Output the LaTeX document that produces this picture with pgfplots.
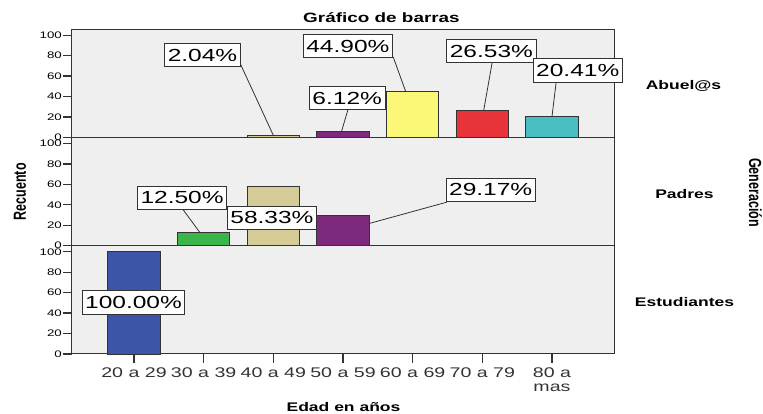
\documentclass[border=0pt]{standalone}
\usepackage{fontspec}
\setmainfont{Liberation Sans}[FakeStretch=1.4]
\newfontfamily\plainsans{Liberation Sans}
\usepackage{graphicx}
\usepackage{pgfplots}
\pgfplotsset{compat=1.18}

\definecolor{panelbg}{HTML}{EFEFEF}
\definecolor{edge}{HTML}{333333}
\definecolor{cblue}{HTML}{3D55A6}
\definecolor{cgreen}{HTML}{3BB54A}
\definecolor{ctan}{HTML}{D4CB97}
\definecolor{cpurple}{HTML}{7D2A7E}
\definecolor{cyellow}{HTML}{FCF877}
\definecolor{cred}{HTML}{E8333A}
\definecolor{cteal}{HTML}{48BEC4}

\pgfplotsset{
  panel/.style={
    at={(72pt,#1)}, anchor=south west,
    scale only axis, width=542pt, height=108.3pt,
    xmin=-0.89, xmax=6.89, ymin=0, ymax=106,
    ytick={0,20,...,100}, ytick pos=left,
    tick align=outside, major tick length=9pt,
    axis background/.style={fill=panelbg},
    axis line style={edge, line width=1pt},
    tick style={edge, line width=1.3pt},
    yticklabel style={font=\fontsize{9.5}{10}\selectfont, inner sep=1pt},
    /pgf/number format/assume math mode=true,
    clip=false,
  },
  mybar/.style={ybar, bar width=0.75, bar shift=0pt, fill=#1, draw=edge, line width=0.9pt},
}
\tikzset{
  lbl/.style={draw=edge, fill=white, line width=0.8pt,
    font=\fontsize{17.5}{18}\selectfont, inner xsep=3pt, inner ysep=5pt,
    text height=13pt, text depth=0.5pt},
  lead/.style={draw=edge, line width=0.8pt},
}

\begin{document}
\begin{tikzpicture}[x=1pt, y=1pt]
\useasboundingbox (0,0) rectangle (763,414);

% Abuel@s
\begin{axis}[panel=276.6pt, xtick=\empty]
\draw[lead] (axis cs:1.52,72.9) -- (axis cs:2,2.04);
\draw[lead] (axis cs:3.72,78.8) -- (axis cs:3.9,44.9);
\draw[lead] (axis cs:3.07,26.9) -- (axis cs:2.98,6.12);
\draw[lead] (axis cs:5.14,72.9) -- (axis cs:5.02,26.53);
\draw[lead] (axis cs:6.06,54.3) -- (axis cs:6.0,20.41);
\addplot[mybar=ctan] coordinates {(2,2.04)};
\addplot[mybar=cpurple] coordinates {(3,6.12)};
\addplot[mybar=cyellow] coordinates {(4,44.90)};
\addplot[mybar=cred] coordinates {(5,26.53)};
\addplot[mybar=cteal] coordinates {(6,20.41)};
\node[lbl] at (axis cs:0.983,80.7) {2.04\%};
\node[lbl] at (axis cs:3.07,89.6) {44.90\%};
\node[lbl] at (axis cs:3.06,38.7) {6.12\%};
\node[lbl] at (axis cs:5.13,84.7) {26.53\%};
\node[lbl] at (axis cs:6.37,65.6) {20.41\%};
\end{axis}

% Padres
\begin{axis}[panel=168.3pt, xtick=\empty]
\draw[lead] (axis cs:0.70,35.7) -- (axis cs:0.95,12.5);
\draw[lead] (axis cs:4.49,42.6) -- (axis cs:3.39,22);
\addplot[mybar=cgreen] coordinates {(1,12.50)};
\addplot[mybar=ctan] coordinates {(2,58.33)};
\addplot[mybar=cpurple] coordinates {(3,29.17)};
\node[lbl] at (axis cs:0.69,47) {12.50\%};
\node[lbl] at (axis cs:1.98,27.4) {58.33\%};
\node[lbl] at (axis cs:5.12,54.8) {29.17\%};
\end{axis}

% Estudiantes
\begin{axis}[panel=60pt, xtick={0,1,2,3,4,5,6}, xtick pos=lower,
  xticklabels={20 a 29,30 a 39,40 a 49,50 a 59,60 a 69,70 a 79,{80 a\\mas}},
  xticklabel style={font=\fontsize{14}{13.5}\selectfont, align=center,
    inner sep=1pt, text=edge, yshift=-4pt}]
\addplot[mybar=cblue] coordinates {(0,100)};
\node[lbl] at (axis cs:-0.007,50.4) {100.00\%};
\end{axis}

\node[anchor=base, font=\bfseries\fontsize{13.5}{14}\selectfont] at (381.5,391) {Gráfico de barras};
\node[anchor=base, font=\bfseries\fontsize{12.5}{13}\selectfont] at (343.5,2) {Edad en años};
\node[font=\bfseries\fontsize{12.5}{13}\selectfont] at (683.5,328.5) {Abuel@s};
\node[font=\bfseries\fontsize{12.5}{13}\selectfont] at (684.5,219.5) {Padres};
\node[font=\bfseries\fontsize{12.5}{13}\selectfont] at (684.5,112) {Estudiantes};
\node[rotate=90] at (20,222.3) {\scalebox{1}[1.4]{\plainsans\bfseries\fontsize{12.5}{13}\selectfont Recuento}};
\node[rotate=-90] at (755.5,221.5) {\scalebox{1}[1.4]{\plainsans\bfseries\fontsize{12.5}{13}\selectfont Generación}};
\end{tikzpicture}
\end{document}
